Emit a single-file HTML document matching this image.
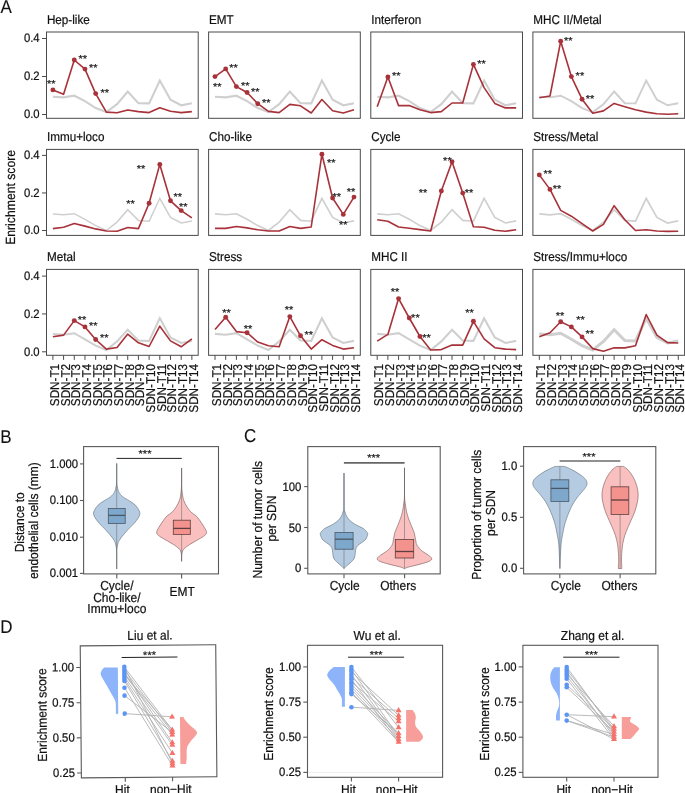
<!DOCTYPE html>
<html><head><meta charset="utf-8"><title>Figure</title>
<style>
html,body{margin:0;padding:0;background:#fff;}
svg{display:block;font-family:"Liberation Sans", sans-serif;text-rendering:geometricPrecision;will-change:transform;}
</style></head>
<body>
<svg width="685" height="793" viewBox="0 0 685 793">
<rect x="0" y="0" width="685" height="793" fill="#fff"/>
<text transform="translate(0.5,13.4) scale(0.9174,1)" font-size="18.53" text-anchor="start" fill="#111111" stroke="#111111" stroke-width="0.1" >A</text>
<text transform="translate(15.3,197.4) rotate(-90) scale(0.9174,1)" font-size="13.30" text-anchor="middle" fill="#111111" stroke="#111111" stroke-width="0.22">Enrichment score</text>
<text transform="translate(46.9,23.7) scale(0.9174,1)" font-size="12.75" text-anchor="start" fill="#111111" stroke="#111111" stroke-width="0.22" >Hep-like</text>
<polyline points="52.9,96.7 63.59,97.4 74.28,95.7 84.97,101.1 95.66,108.1 106.35,112.1 117.04,104.2 127.73,91.5 138.42,103.2 149.11,103.4 159.8,80.6 170.49,99.7 181.18,105.3 191.87,103.2" fill="none" stroke="#cfcfcf" stroke-width="2.1" stroke-linejoin="miter" stroke-miterlimit="4" stroke-linecap="butt" />
<polyline points="52.9,89.9 63.59,94.3 74.28,60 84.97,69.1 95.66,93.6 106.35,112.1 117.04,112.8 127.73,110 138.42,111.6 149.11,112.6 159.8,107.7 170.49,111.2 181.18,112.6 191.87,111.6" fill="none" stroke="#a8323a" stroke-width="1.6" stroke-linejoin="round" stroke-miterlimit="4" stroke-linecap="butt" />
<circle cx="52.9" cy="89.9" r="2.45" fill="#a8323a"/>
<circle cx="74.28" cy="60" r="2.45" fill="#a8323a"/>
<circle cx="84.97" cy="69.1" r="2.45" fill="#a8323a"/>
<circle cx="95.66" cy="93.6" r="2.45" fill="#a8323a"/>
<text transform="translate(51.2,87.39) scale(1.0870,1)" font-size="10.12" text-anchor="middle" fill="#1a1a1a" stroke="#1a1a1a" stroke-width="0.25" >**</text>
<text transform="translate(82.7,62.39) scale(1.0870,1)" font-size="10.12" text-anchor="middle" fill="#1a1a1a" stroke="#1a1a1a" stroke-width="0.25" >**</text>
<text transform="translate(93.3,71.29) scale(1.0870,1)" font-size="10.12" text-anchor="middle" fill="#1a1a1a" stroke="#1a1a1a" stroke-width="0.25" >**</text>
<text transform="translate(104.7,95.79) scale(1.0870,1)" font-size="10.12" text-anchor="middle" fill="#1a1a1a" stroke="#1a1a1a" stroke-width="0.25" >**</text>
<rect x="46.5" y="32" width="151.7" height="86.3" fill="none" stroke="#4a4a4a" stroke-width="1.0"/>
<line x1="42" y1="114.5" x2="46.5" y2="114.5" stroke="#4a4a4a" stroke-width="1.0" />
<text transform="translate(39.6,118.24) scale(0.9174,1)" font-size="12.32" text-anchor="end" fill="#111111" stroke="#111111" stroke-width="0.22" >0.0</text>
<line x1="42" y1="76.5" x2="46.5" y2="76.5" stroke="#4a4a4a" stroke-width="1.0" />
<text transform="translate(39.6,80.24) scale(0.9174,1)" font-size="12.32" text-anchor="end" fill="#111111" stroke="#111111" stroke-width="0.22" >0.2</text>
<line x1="42" y1="38.5" x2="46.5" y2="38.5" stroke="#4a4a4a" stroke-width="1.0" />
<text transform="translate(39.6,42.24) scale(0.9174,1)" font-size="12.32" text-anchor="end" fill="#111111" stroke="#111111" stroke-width="0.22" >0.4</text>
<text transform="translate(209,23.7) scale(0.9174,1)" font-size="12.75" text-anchor="start" fill="#111111" stroke="#111111" stroke-width="0.22" >EMT</text>
<polyline points="215,96.7 225.69,97.4 236.38,95.7 247.07,101.1 257.76,108.1 268.45,112.1 279.14,104.2 289.83,91.5 300.52,103.2 311.21,103.4 321.9,80.6 332.59,99.7 343.28,105.3 353.97,103.2" fill="none" stroke="#cfcfcf" stroke-width="2.1" stroke-linejoin="miter" stroke-miterlimit="4" stroke-linecap="butt" />
<polyline points="215,76.6 225.69,68.9 236.38,86.6 247.07,92.5 257.76,103.7 268.45,111.4 279.14,112.6 289.83,104.4 300.52,105.8 311.21,113 321.9,99.5 332.59,110.7 343.28,113 353.97,109.8" fill="none" stroke="#a8323a" stroke-width="1.6" stroke-linejoin="round" stroke-miterlimit="4" stroke-linecap="butt" />
<circle cx="215" cy="76.6" r="2.45" fill="#a8323a"/>
<circle cx="225.69" cy="68.9" r="2.45" fill="#a8323a"/>
<circle cx="236.38" cy="86.6" r="2.45" fill="#a8323a"/>
<circle cx="247.07" cy="92.5" r="2.45" fill="#a8323a"/>
<circle cx="257.76" cy="103.7" r="2.45" fill="#a8323a"/>
<text transform="translate(217.2,89.99) scale(1.0870,1)" font-size="10.12" text-anchor="middle" fill="#1a1a1a" stroke="#1a1a1a" stroke-width="0.25" >**</text>
<text transform="translate(233.5,70.59) scale(1.0870,1)" font-size="10.12" text-anchor="middle" fill="#1a1a1a" stroke="#1a1a1a" stroke-width="0.25" >**</text>
<text transform="translate(245.2,88.59) scale(1.0870,1)" font-size="10.12" text-anchor="middle" fill="#1a1a1a" stroke="#1a1a1a" stroke-width="0.25" >**</text>
<text transform="translate(255.3,94.59) scale(1.0870,1)" font-size="10.12" text-anchor="middle" fill="#1a1a1a" stroke="#1a1a1a" stroke-width="0.25" >**</text>
<text transform="translate(266.2,105.59) scale(1.0870,1)" font-size="10.12" text-anchor="middle" fill="#1a1a1a" stroke="#1a1a1a" stroke-width="0.25" >**</text>
<rect x="208.6" y="32" width="151.7" height="86.3" fill="none" stroke="#4a4a4a" stroke-width="1.0"/>
<text transform="translate(371.2,23.7) scale(0.9174,1)" font-size="12.75" text-anchor="start" fill="#111111" stroke="#111111" stroke-width="0.22" >Interferon</text>
<polyline points="377.2,96.7 387.89,97.4 398.58,95.7 409.27,101.1 419.96,108.1 430.65,112.1 441.34,104.2 452.03,91.5 462.72,103.2 473.41,103.4 484.1,80.6 494.79,99.7 505.48,105.3 516.17,103.2" fill="none" stroke="#cfcfcf" stroke-width="2.1" stroke-linejoin="miter" stroke-miterlimit="4" stroke-linecap="butt" />
<polyline points="377.2,106.7 387.89,77.05 398.58,105.6 409.27,105.6 419.96,109.8 430.65,112.6 441.34,111.6 452.03,103 462.72,103 473.41,64.4 484.1,87.6 494.79,103.4 505.48,107.9 516.17,107.9" fill="none" stroke="#a8323a" stroke-width="1.6" stroke-linejoin="round" stroke-miterlimit="4" stroke-linecap="butt" />
<circle cx="387.89" cy="77.05" r="2.45" fill="#a8323a"/>
<circle cx="473.41" cy="64.4" r="2.45" fill="#a8323a"/>
<text transform="translate(396.2,79.19) scale(1.0870,1)" font-size="10.12" text-anchor="middle" fill="#1a1a1a" stroke="#1a1a1a" stroke-width="0.25" >**</text>
<text transform="translate(481.5,66.59) scale(1.0870,1)" font-size="10.12" text-anchor="middle" fill="#1a1a1a" stroke="#1a1a1a" stroke-width="0.25" >**</text>
<rect x="370.8" y="32" width="151.7" height="86.3" fill="none" stroke="#4a4a4a" stroke-width="1.0"/>
<text transform="translate(533.3,23.7) scale(0.9174,1)" font-size="12.75" text-anchor="start" fill="#111111" stroke="#111111" stroke-width="0.22" >MHC II/Metal</text>
<polyline points="539.3,96.7 549.99,97.4 560.68,95.7 571.37,101.1 582.06,108.1 592.75,112.1 603.44,104.2 614.13,91.5 624.82,103.2 635.51,103.4 646.2,80.6 656.89,99.7 667.58,105.3 678.27,103.2" fill="none" stroke="#cfcfcf" stroke-width="1.9" stroke-linejoin="miter" stroke-miterlimit="4" stroke-linecap="butt" />
<polyline points="539.3,97.8 549.99,96 560.68,41.3 571.37,76.6 582.06,99.2 592.75,113.3 603.44,110.9 614.13,103.4 624.82,106.7 635.51,109.8 646.2,112.1 656.89,113.7 667.58,114.2 678.27,113.7" fill="none" stroke="#a8323a" stroke-width="1.6" stroke-linejoin="round" stroke-miterlimit="4" stroke-linecap="butt" />
<circle cx="560.68" cy="41.3" r="2.45" fill="#a8323a"/>
<circle cx="571.37" cy="76.6" r="2.45" fill="#a8323a"/>
<circle cx="582.06" cy="99.2" r="2.45" fill="#a8323a"/>
<text transform="translate(568.2,43.69) scale(1.0870,1)" font-size="10.12" text-anchor="middle" fill="#1a1a1a" stroke="#1a1a1a" stroke-width="0.25" >**</text>
<text transform="translate(579.9,78.69) scale(1.0870,1)" font-size="10.12" text-anchor="middle" fill="#1a1a1a" stroke="#1a1a1a" stroke-width="0.25" >**</text>
<text transform="translate(590,101.59) scale(1.0870,1)" font-size="10.12" text-anchor="middle" fill="#1a1a1a" stroke="#1a1a1a" stroke-width="0.25" >**</text>
<rect x="532.9" y="32" width="151.7" height="86.3" fill="none" stroke="#4a4a4a" stroke-width="1.0"/>
<text transform="translate(46.9,141.1) scale(0.9174,1)" font-size="12.75" text-anchor="start" fill="#111111" stroke="#111111" stroke-width="0.22" >Immu+loco</text>
<polyline points="52.9,213.9 63.59,214.8 74.28,213.7 84.97,219.3 95.66,225.6 106.35,230.5 117.04,222.1 127.73,209.7 138.42,220.4 149.11,221.2 159.8,198.3 170.49,217.4 181.18,223 191.87,220.9" fill="none" stroke="#cfcfcf" stroke-width="1.5" stroke-linejoin="miter" stroke-miterlimit="4" stroke-linecap="butt" />
<polyline points="52.9,228.6 63.59,227.2 74.28,223.5 84.97,226.1 95.66,228.9 106.35,231 117.04,231.2 127.73,227.5 138.42,228.6 149.11,203.2 159.8,164.4 170.49,200.8 181.18,210.6 191.87,217.9" fill="none" stroke="#a8323a" stroke-width="1.6" stroke-linejoin="round" stroke-miterlimit="4" stroke-linecap="butt" />
<circle cx="149.11" cy="203.2" r="2.45" fill="#a8323a"/>
<circle cx="159.8" cy="164.4" r="2.45" fill="#a8323a"/>
<circle cx="170.49" cy="200.8" r="2.45" fill="#a8323a"/>
<circle cx="181.18" cy="210.6" r="2.45" fill="#a8323a"/>
<text transform="translate(141.1,172.39) scale(1.0870,1)" font-size="10.12" text-anchor="middle" fill="#1a1a1a" stroke="#1a1a1a" stroke-width="0.25" >**</text>
<text transform="translate(130.6,207.39) scale(1.0870,1)" font-size="10.12" text-anchor="middle" fill="#1a1a1a" stroke="#1a1a1a" stroke-width="0.25" >**</text>
<text transform="translate(177.8,200.39) scale(1.0870,1)" font-size="10.12" text-anchor="middle" fill="#1a1a1a" stroke="#1a1a1a" stroke-width="0.25" >**</text>
<text transform="translate(183.2,210.49) scale(1.0870,1)" font-size="10.12" text-anchor="middle" fill="#1a1a1a" stroke="#1a1a1a" stroke-width="0.25" >**</text>
<rect x="46.5" y="149.4" width="151.7" height="86" fill="none" stroke="#4a4a4a" stroke-width="1.0"/>
<line x1="42" y1="230.5" x2="46.5" y2="230.5" stroke="#4a4a4a" stroke-width="1.0" />
<text transform="translate(39.6,234.24) scale(0.9174,1)" font-size="12.32" text-anchor="end" fill="#111111" stroke="#111111" stroke-width="0.22" >0.0</text>
<line x1="42" y1="192.95" x2="46.5" y2="192.95" stroke="#4a4a4a" stroke-width="1.0" />
<text transform="translate(39.6,196.69) scale(0.9174,1)" font-size="12.32" text-anchor="end" fill="#111111" stroke="#111111" stroke-width="0.22" >0.2</text>
<line x1="42" y1="155.4" x2="46.5" y2="155.4" stroke="#4a4a4a" stroke-width="1.0" />
<text transform="translate(39.6,159.14) scale(0.9174,1)" font-size="12.32" text-anchor="end" fill="#111111" stroke="#111111" stroke-width="0.22" >0.4</text>
<text transform="translate(209,141.1) scale(0.9174,1)" font-size="12.75" text-anchor="start" fill="#111111" stroke="#111111" stroke-width="0.22" >Cho-like</text>
<polyline points="215,213.9 225.69,214.8 236.38,213.7 247.07,219.3 257.76,225.6 268.45,230.5 279.14,222.1 289.83,209.7 300.52,220.4 311.21,221.2 321.9,198.3 332.59,217.4 343.28,223 353.97,220.9" fill="none" stroke="#cfcfcf" stroke-width="1.6" stroke-linejoin="miter" stroke-miterlimit="4" stroke-linecap="butt" />
<polyline points="215,228.4 225.69,228.4 236.38,226.5 247.07,227.9 257.76,229.8 268.45,231 279.14,231 289.83,226.5 300.52,228.4 311.21,227 321.9,154.3 332.59,198 343.28,214.4 353.97,197.1" fill="none" stroke="#a8323a" stroke-width="1.6" stroke-linejoin="round" stroke-miterlimit="4" stroke-linecap="butt" />
<circle cx="321.9" cy="154.3" r="2.45" fill="#a8323a"/>
<circle cx="332.59" cy="198" r="2.45" fill="#a8323a"/>
<circle cx="343.28" cy="214.4" r="2.45" fill="#a8323a"/>
<circle cx="353.97" cy="197.1" r="2.45" fill="#a8323a"/>
<text transform="translate(331.2,165.89) scale(1.0870,1)" font-size="10.12" text-anchor="middle" fill="#1a1a1a" stroke="#1a1a1a" stroke-width="0.25" >**</text>
<text transform="translate(336.8,200.39) scale(1.0870,1)" font-size="10.12" text-anchor="middle" fill="#1a1a1a" stroke="#1a1a1a" stroke-width="0.25" >**</text>
<text transform="translate(343.3,228.19) scale(1.0870,1)" font-size="10.12" text-anchor="middle" fill="#1a1a1a" stroke="#1a1a1a" stroke-width="0.25" >**</text>
<text transform="translate(351,195.29) scale(1.0870,1)" font-size="10.12" text-anchor="middle" fill="#1a1a1a" stroke="#1a1a1a" stroke-width="0.25" >**</text>
<rect x="208.6" y="149.4" width="151.7" height="86" fill="none" stroke="#4a4a4a" stroke-width="1.0"/>
<text transform="translate(371.2,141.1) scale(0.9174,1)" font-size="12.75" text-anchor="start" fill="#111111" stroke="#111111" stroke-width="0.22" >Cycle</text>
<polyline points="377.2,213.9 387.89,214.8 398.58,213.7 409.27,219.3 419.96,225.6 430.65,230.5 441.34,222.1 452.03,209.7 462.72,220.4 473.41,221.2 484.1,198.3 494.79,217.4 505.48,223 516.17,220.9" fill="none" stroke="#cfcfcf" stroke-width="1.6" stroke-linejoin="miter" stroke-miterlimit="4" stroke-linecap="butt" />
<polyline points="377.2,219.7 387.89,221.2 398.58,227 409.27,228.2 419.96,229.6 430.65,231 441.34,191 452.03,161.8 462.72,193.1 473.41,226.8 484.1,227.2 494.79,230.3 505.48,231.2 516.17,229.8" fill="none" stroke="#a8323a" stroke-width="1.6" stroke-linejoin="round" stroke-miterlimit="4" stroke-linecap="butt" />
<circle cx="441.34" cy="191" r="2.45" fill="#a8323a"/>
<circle cx="452.03" cy="161.8" r="2.45" fill="#a8323a"/>
<circle cx="462.72" cy="193.1" r="2.45" fill="#a8323a"/>
<text transform="translate(423.1,196.19) scale(1.0870,1)" font-size="10.12" text-anchor="middle" fill="#1a1a1a" stroke="#1a1a1a" stroke-width="0.25" >**</text>
<text transform="translate(447.4,163.69) scale(1.0870,1)" font-size="10.12" text-anchor="middle" fill="#1a1a1a" stroke="#1a1a1a" stroke-width="0.25" >**</text>
<text transform="translate(469.1,196.19) scale(1.0870,1)" font-size="10.12" text-anchor="middle" fill="#1a1a1a" stroke="#1a1a1a" stroke-width="0.25" >**</text>
<rect x="370.8" y="149.4" width="151.7" height="86" fill="none" stroke="#4a4a4a" stroke-width="1.0"/>
<text transform="translate(533.3,141.1) scale(0.9174,1)" font-size="12.75" text-anchor="start" fill="#111111" stroke="#111111" stroke-width="0.22" >Stress/Metal</text>
<polyline points="539.3,213.9 549.99,214.8 560.68,213.7 571.37,219.3 582.06,225.6 592.75,230.5 603.44,222.1 614.13,209.7 624.82,220.4 635.51,221.2 646.2,198.3 656.89,217.4 667.58,223 678.27,220.9" fill="none" stroke="#cfcfcf" stroke-width="1.7" stroke-linejoin="miter" stroke-miterlimit="4" stroke-linecap="butt" />
<polyline points="539.3,174.9 549.99,189.4 560.68,210.4 571.37,216.2 582.06,223.7 592.75,231 603.44,224.4 614.13,205.7 624.82,219.7 635.51,230.5 646.2,229.8 656.89,231 667.58,231.4 678.27,231.2" fill="none" stroke="#a8323a" stroke-width="1.6" stroke-linejoin="round" stroke-miterlimit="4" stroke-linecap="butt" />
<circle cx="539.3" cy="174.9" r="2.45" fill="#a8323a"/>
<circle cx="549.99" cy="189.4" r="2.45" fill="#a8323a"/>
<text transform="translate(547.7,177.09) scale(1.0870,1)" font-size="10.12" text-anchor="middle" fill="#1a1a1a" stroke="#1a1a1a" stroke-width="0.25" >**</text>
<text transform="translate(557,191.79) scale(1.0870,1)" font-size="10.12" text-anchor="middle" fill="#1a1a1a" stroke="#1a1a1a" stroke-width="0.25" >**</text>
<rect x="532.9" y="149.4" width="151.7" height="86" fill="none" stroke="#4a4a4a" stroke-width="1.0"/>
<text transform="translate(46.9,261.1) scale(0.9174,1)" font-size="12.75" text-anchor="start" fill="#111111" stroke="#111111" stroke-width="0.22" >Metal</text>
<polyline points="52.9,333.9 63.59,334.8 74.28,333.2 84.97,339.3 95.66,345.6 106.35,350 117.04,341.4 127.73,329.7 138.42,340.5 149.11,340.9 159.8,318.3 170.49,337.4 181.18,343 191.87,340.9" fill="none" stroke="#cfcfcf" stroke-width="2.0" stroke-linejoin="miter" stroke-miterlimit="4" stroke-linecap="butt" />
<polyline points="52.9,336.7 63.59,335.1 74.28,320.6 84.97,326.9 95.66,339.5 106.35,349.1 117.04,347.5 127.73,334.1 138.42,342.8 149.11,346.5 159.8,326.2 170.49,340.9 181.18,346.8 191.87,338.8" fill="none" stroke="#a8323a" stroke-width="1.6" stroke-linejoin="round" stroke-miterlimit="4" stroke-linecap="butt" />
<circle cx="74.28" cy="320.6" r="2.45" fill="#a8323a"/>
<circle cx="84.97" cy="326.9" r="2.45" fill="#a8323a"/>
<circle cx="95.66" cy="339.5" r="2.45" fill="#a8323a"/>
<text transform="translate(82,323.19) scale(1.0870,1)" font-size="10.12" text-anchor="middle" fill="#1a1a1a" stroke="#1a1a1a" stroke-width="0.25" >**</text>
<text transform="translate(93.3,329.29) scale(1.0870,1)" font-size="10.12" text-anchor="middle" fill="#1a1a1a" stroke="#1a1a1a" stroke-width="0.25" >**</text>
<text transform="translate(104.2,341.39) scale(1.0870,1)" font-size="10.12" text-anchor="middle" fill="#1a1a1a" stroke="#1a1a1a" stroke-width="0.25" >**</text>
<rect x="46.5" y="269.4" width="151.7" height="85.9" fill="none" stroke="#4a4a4a" stroke-width="1.0"/>
<line x1="42" y1="351.8" x2="46.5" y2="351.8" stroke="#4a4a4a" stroke-width="1.0" />
<text transform="translate(39.6,355.54) scale(0.9174,1)" font-size="12.32" text-anchor="end" fill="#111111" stroke="#111111" stroke-width="0.22" >0.0</text>
<line x1="42" y1="313.95" x2="46.5" y2="313.95" stroke="#4a4a4a" stroke-width="1.0" />
<text transform="translate(39.6,317.69) scale(0.9174,1)" font-size="12.32" text-anchor="end" fill="#111111" stroke="#111111" stroke-width="0.22" >0.2</text>
<line x1="42" y1="276.1" x2="46.5" y2="276.1" stroke="#4a4a4a" stroke-width="1.0" />
<text transform="translate(39.6,279.84) scale(0.9174,1)" font-size="12.32" text-anchor="end" fill="#111111" stroke="#111111" stroke-width="0.22" >0.4</text>
<line x1="52.9" y1="355.3" x2="52.9" y2="359.9" stroke="#4a4a4a" stroke-width="1.0" />
<text transform="translate(58.9,363.9) rotate(-90) scale(0.9174,1)" font-size="12.75" text-anchor="end" fill="#111111" stroke="#111111" stroke-width="0.22">SDN-T1</text>
<line x1="63.59" y1="355.3" x2="63.59" y2="359.9" stroke="#4a4a4a" stroke-width="1.0" />
<text transform="translate(69.59,363.9) rotate(-90) scale(0.9174,1)" font-size="12.75" text-anchor="end" fill="#111111" stroke="#111111" stroke-width="0.22">SDN-T2</text>
<line x1="74.28" y1="355.3" x2="74.28" y2="359.9" stroke="#4a4a4a" stroke-width="1.0" />
<text transform="translate(80.28,363.9) rotate(-90) scale(0.9174,1)" font-size="12.75" text-anchor="end" fill="#111111" stroke="#111111" stroke-width="0.22">SDN-T3</text>
<line x1="84.97" y1="355.3" x2="84.97" y2="359.9" stroke="#4a4a4a" stroke-width="1.0" />
<text transform="translate(90.97,363.9) rotate(-90) scale(0.9174,1)" font-size="12.75" text-anchor="end" fill="#111111" stroke="#111111" stroke-width="0.22">SDN-T4</text>
<line x1="95.66" y1="355.3" x2="95.66" y2="359.9" stroke="#4a4a4a" stroke-width="1.0" />
<text transform="translate(101.66,363.9) rotate(-90) scale(0.9174,1)" font-size="12.75" text-anchor="end" fill="#111111" stroke="#111111" stroke-width="0.22">SDN-T5</text>
<line x1="106.35" y1="355.3" x2="106.35" y2="359.9" stroke="#4a4a4a" stroke-width="1.0" />
<text transform="translate(112.35,363.9) rotate(-90) scale(0.9174,1)" font-size="12.75" text-anchor="end" fill="#111111" stroke="#111111" stroke-width="0.22">SDN-T6</text>
<line x1="117.04" y1="355.3" x2="117.04" y2="359.9" stroke="#4a4a4a" stroke-width="1.0" />
<text transform="translate(123.04,363.9) rotate(-90) scale(0.9174,1)" font-size="12.75" text-anchor="end" fill="#111111" stroke="#111111" stroke-width="0.22">SDN-T7</text>
<line x1="127.73" y1="355.3" x2="127.73" y2="359.9" stroke="#4a4a4a" stroke-width="1.0" />
<text transform="translate(133.73,363.9) rotate(-90) scale(0.9174,1)" font-size="12.75" text-anchor="end" fill="#111111" stroke="#111111" stroke-width="0.22">SDN-T8</text>
<line x1="138.42" y1="355.3" x2="138.42" y2="359.9" stroke="#4a4a4a" stroke-width="1.0" />
<text transform="translate(144.42,363.9) rotate(-90) scale(0.9174,1)" font-size="12.75" text-anchor="end" fill="#111111" stroke="#111111" stroke-width="0.22">SDN-T9</text>
<line x1="149.11" y1="355.3" x2="149.11" y2="359.9" stroke="#4a4a4a" stroke-width="1.0" />
<text transform="translate(155.11,363.9) rotate(-90) scale(0.9174,1)" font-size="12.75" text-anchor="end" fill="#111111" stroke="#111111" stroke-width="0.22">SDN-T10</text>
<line x1="159.8" y1="355.3" x2="159.8" y2="359.9" stroke="#4a4a4a" stroke-width="1.0" />
<text transform="translate(165.8,363.9) rotate(-90) scale(0.9174,1)" font-size="12.75" text-anchor="end" fill="#111111" stroke="#111111" stroke-width="0.22">SDN-T11</text>
<line x1="170.49" y1="355.3" x2="170.49" y2="359.9" stroke="#4a4a4a" stroke-width="1.0" />
<text transform="translate(176.49,363.9) rotate(-90) scale(0.9174,1)" font-size="12.75" text-anchor="end" fill="#111111" stroke="#111111" stroke-width="0.22">SDN-T12</text>
<line x1="181.18" y1="355.3" x2="181.18" y2="359.9" stroke="#4a4a4a" stroke-width="1.0" />
<text transform="translate(187.18,363.9) rotate(-90) scale(0.9174,1)" font-size="12.75" text-anchor="end" fill="#111111" stroke="#111111" stroke-width="0.22">SDN-T13</text>
<line x1="191.87" y1="355.3" x2="191.87" y2="359.9" stroke="#4a4a4a" stroke-width="1.0" />
<text transform="translate(197.87,363.9) rotate(-90) scale(0.9174,1)" font-size="12.75" text-anchor="end" fill="#111111" stroke="#111111" stroke-width="0.22">SDN-T14</text>
<text transform="translate(209,261.1) scale(0.9174,1)" font-size="12.75" text-anchor="start" fill="#111111" stroke="#111111" stroke-width="0.22" >Stress</text>
<polyline points="215,333.9 225.69,334.8 236.38,333.2 247.07,339.3 257.76,345.6 268.45,350 279.14,341.4 289.83,329.7 300.52,340.5 311.21,340.9 321.9,318.3 332.59,337.4 343.28,343 353.97,340.9" fill="none" stroke="#cfcfcf" stroke-width="2.1" stroke-linejoin="miter" stroke-miterlimit="4" stroke-linecap="butt" />
<polyline points="215,329.5 225.69,317.3 236.38,331.6 247.07,332.7 257.76,342.1 268.45,345.8 279.14,346.8 289.83,316.6 300.52,335.8 311.21,349.1 321.9,339.7 332.59,345.4 343.28,349.1 353.97,347.7" fill="none" stroke="#a8323a" stroke-width="1.6" stroke-linejoin="round" stroke-miterlimit="4" stroke-linecap="butt" />
<circle cx="225.69" cy="317.3" r="2.45" fill="#a8323a"/>
<circle cx="247.07" cy="332.7" r="2.45" fill="#a8323a"/>
<circle cx="289.83" cy="316.6" r="2.45" fill="#a8323a"/>
<circle cx="300.52" cy="335.8" r="2.45" fill="#a8323a"/>
<text transform="translate(226.5,316.19) scale(1.0870,1)" font-size="10.12" text-anchor="middle" fill="#1a1a1a" stroke="#1a1a1a" stroke-width="0.25" >**</text>
<text transform="translate(248,331.59) scale(1.0870,1)" font-size="10.12" text-anchor="middle" fill="#1a1a1a" stroke="#1a1a1a" stroke-width="0.25" >**</text>
<text transform="translate(289.1,313.39) scale(1.0870,1)" font-size="10.12" text-anchor="middle" fill="#1a1a1a" stroke="#1a1a1a" stroke-width="0.25" >**</text>
<text transform="translate(308.8,338.19) scale(1.0870,1)" font-size="10.12" text-anchor="middle" fill="#1a1a1a" stroke="#1a1a1a" stroke-width="0.25" >**</text>
<rect x="208.6" y="269.4" width="151.7" height="85.9" fill="none" stroke="#4a4a4a" stroke-width="1.0"/>
<line x1="215" y1="355.3" x2="215" y2="359.9" stroke="#4a4a4a" stroke-width="1.0" />
<text transform="translate(221,363.9) rotate(-90) scale(0.9174,1)" font-size="12.75" text-anchor="end" fill="#111111" stroke="#111111" stroke-width="0.22">SDN-T1</text>
<line x1="225.69" y1="355.3" x2="225.69" y2="359.9" stroke="#4a4a4a" stroke-width="1.0" />
<text transform="translate(231.69,363.9) rotate(-90) scale(0.9174,1)" font-size="12.75" text-anchor="end" fill="#111111" stroke="#111111" stroke-width="0.22">SDN-T2</text>
<line x1="236.38" y1="355.3" x2="236.38" y2="359.9" stroke="#4a4a4a" stroke-width="1.0" />
<text transform="translate(242.38,363.9) rotate(-90) scale(0.9174,1)" font-size="12.75" text-anchor="end" fill="#111111" stroke="#111111" stroke-width="0.22">SDN-T3</text>
<line x1="247.07" y1="355.3" x2="247.07" y2="359.9" stroke="#4a4a4a" stroke-width="1.0" />
<text transform="translate(253.07,363.9) rotate(-90) scale(0.9174,1)" font-size="12.75" text-anchor="end" fill="#111111" stroke="#111111" stroke-width="0.22">SDN-T4</text>
<line x1="257.76" y1="355.3" x2="257.76" y2="359.9" stroke="#4a4a4a" stroke-width="1.0" />
<text transform="translate(263.76,363.9) rotate(-90) scale(0.9174,1)" font-size="12.75" text-anchor="end" fill="#111111" stroke="#111111" stroke-width="0.22">SDN-T5</text>
<line x1="268.45" y1="355.3" x2="268.45" y2="359.9" stroke="#4a4a4a" stroke-width="1.0" />
<text transform="translate(274.45,363.9) rotate(-90) scale(0.9174,1)" font-size="12.75" text-anchor="end" fill="#111111" stroke="#111111" stroke-width="0.22">SDN-T6</text>
<line x1="279.14" y1="355.3" x2="279.14" y2="359.9" stroke="#4a4a4a" stroke-width="1.0" />
<text transform="translate(285.14,363.9) rotate(-90) scale(0.9174,1)" font-size="12.75" text-anchor="end" fill="#111111" stroke="#111111" stroke-width="0.22">SDN-T7</text>
<line x1="289.83" y1="355.3" x2="289.83" y2="359.9" stroke="#4a4a4a" stroke-width="1.0" />
<text transform="translate(295.83,363.9) rotate(-90) scale(0.9174,1)" font-size="12.75" text-anchor="end" fill="#111111" stroke="#111111" stroke-width="0.22">SDN-T8</text>
<line x1="300.52" y1="355.3" x2="300.52" y2="359.9" stroke="#4a4a4a" stroke-width="1.0" />
<text transform="translate(306.52,363.9) rotate(-90) scale(0.9174,1)" font-size="12.75" text-anchor="end" fill="#111111" stroke="#111111" stroke-width="0.22">SDN-T9</text>
<line x1="311.21" y1="355.3" x2="311.21" y2="359.9" stroke="#4a4a4a" stroke-width="1.0" />
<text transform="translate(317.21,363.9) rotate(-90) scale(0.9174,1)" font-size="12.75" text-anchor="end" fill="#111111" stroke="#111111" stroke-width="0.22">SDN-T10</text>
<line x1="321.9" y1="355.3" x2="321.9" y2="359.9" stroke="#4a4a4a" stroke-width="1.0" />
<text transform="translate(327.9,363.9) rotate(-90) scale(0.9174,1)" font-size="12.75" text-anchor="end" fill="#111111" stroke="#111111" stroke-width="0.22">SDN-T11</text>
<line x1="332.59" y1="355.3" x2="332.59" y2="359.9" stroke="#4a4a4a" stroke-width="1.0" />
<text transform="translate(338.59,363.9) rotate(-90) scale(0.9174,1)" font-size="12.75" text-anchor="end" fill="#111111" stroke="#111111" stroke-width="0.22">SDN-T12</text>
<line x1="343.28" y1="355.3" x2="343.28" y2="359.9" stroke="#4a4a4a" stroke-width="1.0" />
<text transform="translate(349.28,363.9) rotate(-90) scale(0.9174,1)" font-size="12.75" text-anchor="end" fill="#111111" stroke="#111111" stroke-width="0.22">SDN-T13</text>
<line x1="353.97" y1="355.3" x2="353.97" y2="359.9" stroke="#4a4a4a" stroke-width="1.0" />
<text transform="translate(359.97,363.9) rotate(-90) scale(0.9174,1)" font-size="12.75" text-anchor="end" fill="#111111" stroke="#111111" stroke-width="0.22">SDN-T14</text>
<text transform="translate(371.2,261.1) scale(0.9174,1)" font-size="12.75" text-anchor="start" fill="#111111" stroke="#111111" stroke-width="0.22" >MHC II</text>
<polyline points="377.2,333.9 387.89,334.8 398.58,333.2 409.27,339.3 419.96,345.6 430.65,350 441.34,341.4 452.03,329.7 462.72,340.5 473.41,340.9 484.1,318.3 494.79,337.4 505.48,343 516.17,340.9" fill="none" stroke="#cfcfcf" stroke-width="2.1" stroke-linejoin="miter" stroke-miterlimit="4" stroke-linecap="butt" />
<polyline points="377.2,341.1 387.89,334.4 398.58,298.6 409.27,318 419.96,336.5 430.65,350 441.34,349.6 452.03,345.1 462.72,345.1 473.41,321.3 484.1,338.8 494.79,347.7 505.48,349.1 516.17,349.6" fill="none" stroke="#a8323a" stroke-width="1.6" stroke-linejoin="round" stroke-miterlimit="4" stroke-linecap="butt" />
<circle cx="398.58" cy="298.6" r="2.45" fill="#a8323a"/>
<circle cx="409.27" cy="318" r="2.45" fill="#a8323a"/>
<circle cx="419.96" cy="336.5" r="2.45" fill="#a8323a"/>
<circle cx="473.41" cy="321.3" r="2.45" fill="#a8323a"/>
<text transform="translate(395.1,295.19) scale(1.0870,1)" font-size="10.12" text-anchor="middle" fill="#1a1a1a" stroke="#1a1a1a" stroke-width="0.25" >**</text>
<text transform="translate(415.4,320.89) scale(1.0870,1)" font-size="10.12" text-anchor="middle" fill="#1a1a1a" stroke="#1a1a1a" stroke-width="0.25" >**</text>
<text transform="translate(426.6,340.69) scale(1.0870,1)" font-size="10.12" text-anchor="middle" fill="#1a1a1a" stroke="#1a1a1a" stroke-width="0.25" >**</text>
<text transform="translate(469.6,316.19) scale(1.0870,1)" font-size="10.12" text-anchor="middle" fill="#1a1a1a" stroke="#1a1a1a" stroke-width="0.25" >**</text>
<rect x="370.8" y="269.4" width="151.7" height="85.9" fill="none" stroke="#4a4a4a" stroke-width="1.0"/>
<line x1="377.2" y1="355.3" x2="377.2" y2="359.9" stroke="#4a4a4a" stroke-width="1.0" />
<text transform="translate(383.2,363.9) rotate(-90) scale(0.9174,1)" font-size="12.75" text-anchor="end" fill="#111111" stroke="#111111" stroke-width="0.22">SDN-T1</text>
<line x1="387.89" y1="355.3" x2="387.89" y2="359.9" stroke="#4a4a4a" stroke-width="1.0" />
<text transform="translate(393.89,363.9) rotate(-90) scale(0.9174,1)" font-size="12.75" text-anchor="end" fill="#111111" stroke="#111111" stroke-width="0.22">SDN-T2</text>
<line x1="398.58" y1="355.3" x2="398.58" y2="359.9" stroke="#4a4a4a" stroke-width="1.0" />
<text transform="translate(404.58,363.9) rotate(-90) scale(0.9174,1)" font-size="12.75" text-anchor="end" fill="#111111" stroke="#111111" stroke-width="0.22">SDN-T3</text>
<line x1="409.27" y1="355.3" x2="409.27" y2="359.9" stroke="#4a4a4a" stroke-width="1.0" />
<text transform="translate(415.27,363.9) rotate(-90) scale(0.9174,1)" font-size="12.75" text-anchor="end" fill="#111111" stroke="#111111" stroke-width="0.22">SDN-T4</text>
<line x1="419.96" y1="355.3" x2="419.96" y2="359.9" stroke="#4a4a4a" stroke-width="1.0" />
<text transform="translate(425.96,363.9) rotate(-90) scale(0.9174,1)" font-size="12.75" text-anchor="end" fill="#111111" stroke="#111111" stroke-width="0.22">SDN-T5</text>
<line x1="430.65" y1="355.3" x2="430.65" y2="359.9" stroke="#4a4a4a" stroke-width="1.0" />
<text transform="translate(436.65,363.9) rotate(-90) scale(0.9174,1)" font-size="12.75" text-anchor="end" fill="#111111" stroke="#111111" stroke-width="0.22">SDN-T6</text>
<line x1="441.34" y1="355.3" x2="441.34" y2="359.9" stroke="#4a4a4a" stroke-width="1.0" />
<text transform="translate(447.34,363.9) rotate(-90) scale(0.9174,1)" font-size="12.75" text-anchor="end" fill="#111111" stroke="#111111" stroke-width="0.22">SDN-T7</text>
<line x1="452.03" y1="355.3" x2="452.03" y2="359.9" stroke="#4a4a4a" stroke-width="1.0" />
<text transform="translate(458.03,363.9) rotate(-90) scale(0.9174,1)" font-size="12.75" text-anchor="end" fill="#111111" stroke="#111111" stroke-width="0.22">SDN-T8</text>
<line x1="462.72" y1="355.3" x2="462.72" y2="359.9" stroke="#4a4a4a" stroke-width="1.0" />
<text transform="translate(468.72,363.9) rotate(-90) scale(0.9174,1)" font-size="12.75" text-anchor="end" fill="#111111" stroke="#111111" stroke-width="0.22">SDN-T9</text>
<line x1="473.41" y1="355.3" x2="473.41" y2="359.9" stroke="#4a4a4a" stroke-width="1.0" />
<text transform="translate(479.41,363.9) rotate(-90) scale(0.9174,1)" font-size="12.75" text-anchor="end" fill="#111111" stroke="#111111" stroke-width="0.22">SDN-T10</text>
<line x1="484.1" y1="355.3" x2="484.1" y2="359.9" stroke="#4a4a4a" stroke-width="1.0" />
<text transform="translate(490.1,363.9) rotate(-90) scale(0.9174,1)" font-size="12.75" text-anchor="end" fill="#111111" stroke="#111111" stroke-width="0.22">SDN-T11</text>
<line x1="494.79" y1="355.3" x2="494.79" y2="359.9" stroke="#4a4a4a" stroke-width="1.0" />
<text transform="translate(500.79,363.9) rotate(-90) scale(0.9174,1)" font-size="12.75" text-anchor="end" fill="#111111" stroke="#111111" stroke-width="0.22">SDN-T12</text>
<line x1="505.48" y1="355.3" x2="505.48" y2="359.9" stroke="#4a4a4a" stroke-width="1.0" />
<text transform="translate(511.48,363.9) rotate(-90) scale(0.9174,1)" font-size="12.75" text-anchor="end" fill="#111111" stroke="#111111" stroke-width="0.22">SDN-T13</text>
<line x1="516.17" y1="355.3" x2="516.17" y2="359.9" stroke="#4a4a4a" stroke-width="1.0" />
<text transform="translate(522.17,363.9) rotate(-90) scale(0.9174,1)" font-size="12.75" text-anchor="end" fill="#111111" stroke="#111111" stroke-width="0.22">SDN-T14</text>
<text transform="translate(533.3,261.1) scale(0.9174,1)" font-size="12.75" text-anchor="start" fill="#111111" stroke="#111111" stroke-width="0.22" >Stress/Immu+loco</text>
<polyline points="539.3,333.9 549.99,334.8 560.68,333.2 571.37,339.3 582.06,345.6 592.75,350 603.44,341.4 614.13,329.7 624.82,340.5 635.51,340.9 646.2,318.3 656.89,337.4 667.58,343 678.27,340.9" fill="none" stroke="#cfcfcf" stroke-width="3.0" stroke-linejoin="miter" stroke-miterlimit="4" stroke-linecap="butt" />
<polyline points="539.3,336.7 549.99,332.7 560.68,321.8 571.37,326.9 582.06,336.9 592.75,348.6 603.44,351.2 614.13,347.7 624.82,347.9 635.51,345.8 646.2,314.5 656.89,335.1 667.58,342.6 678.27,343" fill="none" stroke="#a8323a" stroke-width="1.6" stroke-linejoin="round" stroke-miterlimit="4" stroke-linecap="butt" />
<circle cx="560.68" cy="321.8" r="2.45" fill="#a8323a"/>
<circle cx="571.37" cy="326.9" r="2.45" fill="#a8323a"/>
<circle cx="582.06" cy="336.9" r="2.45" fill="#a8323a"/>
<text transform="translate(560,318.59) scale(1.0870,1)" font-size="10.12" text-anchor="middle" fill="#1a1a1a" stroke="#1a1a1a" stroke-width="0.25" >**</text>
<text transform="translate(580.6,323.19) scale(1.0870,1)" font-size="10.12" text-anchor="middle" fill="#1a1a1a" stroke="#1a1a1a" stroke-width="0.25" >**</text>
<text transform="translate(589.7,337.19) scale(1.0870,1)" font-size="10.12" text-anchor="middle" fill="#1a1a1a" stroke="#1a1a1a" stroke-width="0.25" >**</text>
<rect x="532.9" y="269.4" width="151.7" height="85.9" fill="none" stroke="#4a4a4a" stroke-width="1.0"/>
<line x1="539.3" y1="355.3" x2="539.3" y2="359.9" stroke="#4a4a4a" stroke-width="1.0" />
<text transform="translate(545.3,363.9) rotate(-90) scale(0.9174,1)" font-size="12.75" text-anchor="end" fill="#111111" stroke="#111111" stroke-width="0.22">SDN-T1</text>
<line x1="549.99" y1="355.3" x2="549.99" y2="359.9" stroke="#4a4a4a" stroke-width="1.0" />
<text transform="translate(555.99,363.9) rotate(-90) scale(0.9174,1)" font-size="12.75" text-anchor="end" fill="#111111" stroke="#111111" stroke-width="0.22">SDN-T2</text>
<line x1="560.68" y1="355.3" x2="560.68" y2="359.9" stroke="#4a4a4a" stroke-width="1.0" />
<text transform="translate(566.68,363.9) rotate(-90) scale(0.9174,1)" font-size="12.75" text-anchor="end" fill="#111111" stroke="#111111" stroke-width="0.22">SDN-T3</text>
<line x1="571.37" y1="355.3" x2="571.37" y2="359.9" stroke="#4a4a4a" stroke-width="1.0" />
<text transform="translate(577.37,363.9) rotate(-90) scale(0.9174,1)" font-size="12.75" text-anchor="end" fill="#111111" stroke="#111111" stroke-width="0.22">SDN-T4</text>
<line x1="582.06" y1="355.3" x2="582.06" y2="359.9" stroke="#4a4a4a" stroke-width="1.0" />
<text transform="translate(588.06,363.9) rotate(-90) scale(0.9174,1)" font-size="12.75" text-anchor="end" fill="#111111" stroke="#111111" stroke-width="0.22">SDN-T5</text>
<line x1="592.75" y1="355.3" x2="592.75" y2="359.9" stroke="#4a4a4a" stroke-width="1.0" />
<text transform="translate(598.75,363.9) rotate(-90) scale(0.9174,1)" font-size="12.75" text-anchor="end" fill="#111111" stroke="#111111" stroke-width="0.22">SDN-T6</text>
<line x1="603.44" y1="355.3" x2="603.44" y2="359.9" stroke="#4a4a4a" stroke-width="1.0" />
<text transform="translate(609.44,363.9) rotate(-90) scale(0.9174,1)" font-size="12.75" text-anchor="end" fill="#111111" stroke="#111111" stroke-width="0.22">SDN-T7</text>
<line x1="614.13" y1="355.3" x2="614.13" y2="359.9" stroke="#4a4a4a" stroke-width="1.0" />
<text transform="translate(620.13,363.9) rotate(-90) scale(0.9174,1)" font-size="12.75" text-anchor="end" fill="#111111" stroke="#111111" stroke-width="0.22">SDN-T8</text>
<line x1="624.82" y1="355.3" x2="624.82" y2="359.9" stroke="#4a4a4a" stroke-width="1.0" />
<text transform="translate(630.82,363.9) rotate(-90) scale(0.9174,1)" font-size="12.75" text-anchor="end" fill="#111111" stroke="#111111" stroke-width="0.22">SDN-T9</text>
<line x1="635.51" y1="355.3" x2="635.51" y2="359.9" stroke="#4a4a4a" stroke-width="1.0" />
<text transform="translate(641.51,363.9) rotate(-90) scale(0.9174,1)" font-size="12.75" text-anchor="end" fill="#111111" stroke="#111111" stroke-width="0.22">SDN-T10</text>
<line x1="646.2" y1="355.3" x2="646.2" y2="359.9" stroke="#4a4a4a" stroke-width="1.0" />
<text transform="translate(652.2,363.9) rotate(-90) scale(0.9174,1)" font-size="12.75" text-anchor="end" fill="#111111" stroke="#111111" stroke-width="0.22">SDN-T11</text>
<line x1="656.89" y1="355.3" x2="656.89" y2="359.9" stroke="#4a4a4a" stroke-width="1.0" />
<text transform="translate(662.89,363.9) rotate(-90) scale(0.9174,1)" font-size="12.75" text-anchor="end" fill="#111111" stroke="#111111" stroke-width="0.22">SDN-T12</text>
<line x1="667.58" y1="355.3" x2="667.58" y2="359.9" stroke="#4a4a4a" stroke-width="1.0" />
<text transform="translate(673.58,363.9) rotate(-90) scale(0.9174,1)" font-size="12.75" text-anchor="end" fill="#111111" stroke="#111111" stroke-width="0.22">SDN-T13</text>
<line x1="678.27" y1="355.3" x2="678.27" y2="359.9" stroke="#4a4a4a" stroke-width="1.0" />
<text transform="translate(684.27,363.9) rotate(-90) scale(0.9174,1)" font-size="12.75" text-anchor="end" fill="#111111" stroke="#111111" stroke-width="0.22">SDN-T14</text>
<text transform="translate(0.2,442.6) scale(0.9174,1)" font-size="18.53" text-anchor="start" fill="#111111" stroke="#111111" stroke-width="0.1" >B</text>
<text transform="translate(23.9,522.3) rotate(-90) scale(0.9174,1)" font-size="13.08" text-anchor="middle" fill="#111111" stroke="#111111" stroke-width="0.22">Distance to</text>
<text transform="translate(37.9,520.6) rotate(-90) scale(0.9174,1)" font-size="13.08" text-anchor="middle" fill="#111111" stroke="#111111" stroke-width="0.22">endothelial cells (mm)</text>
<path d="M116.75,463.5 C116.75,466.45 116.59,477.07 116.75,481.2 C116.91,485.33 117.31,486.42 117.7,488.3 C118.09,490.18 118.27,491.1 119.1,492.5 C119.93,493.9 120.93,495.28 122.7,496.7 C124.47,498.12 127.58,499.58 129.7,501 C131.82,502.42 133.87,503.67 135.4,505.2 C136.93,506.73 138.15,508.78 138.9,510.2 C139.65,511.62 140.02,512.4 139.9,513.7 C139.78,515 139.2,516.35 138.2,518 C137.2,519.65 135.55,521.72 133.9,523.6 C132.25,525.48 130.07,527.42 128.3,529.3 C126.53,531.18 124.83,533.02 123.3,534.9 C121.77,536.78 120.03,538.95 119.1,540.6 C118.17,542.25 118.09,542.92 117.7,544.8 C117.31,546.68 116.91,547.88 116.75,551.9 C116.59,555.92 116.75,566.07 116.75,568.9 L116.65,568.9 C116.65,566.07 116.81,555.92 116.65,551.9 C116.49,547.88 116.09,546.68 115.7,544.8 C115.31,542.92 115.23,542.25 114.3,540.6 C113.37,538.95 111.63,536.78 110.1,534.9 C108.57,533.02 106.87,531.18 105.1,529.3 C103.33,527.42 101.15,525.48 99.5,523.6 C97.85,521.72 96.2,519.65 95.2,518 C94.2,516.35 93.62,515 93.5,513.7 C93.38,512.4 93.75,511.62 94.5,510.2 C95.25,508.78 96.47,506.73 98,505.2 C99.53,503.67 101.58,502.42 103.7,501 C105.82,499.58 108.93,498.12 110.7,496.7 C112.47,495.28 113.47,493.9 114.3,492.5 C115.13,491.1 115.31,490.18 115.7,488.3 C116.09,486.42 116.49,485.33 116.65,481.2 C116.81,477.07 116.65,466.45 116.65,463.5Z" fill="#b4cbe1" stroke="#4a5866" stroke-width="0.5" stroke-linejoin="round"/>
<line x1="116.7" y1="463.5" x2="116.7" y2="568.9" stroke="#6a6a6a" stroke-width="0.55" />
<rect x="108.3" y="508.4" width="16.9" height="15.1" fill="#7da8cc" stroke="#4a5866" stroke-width="0.8"/>
<line x1="108.3" y1="515.4" x2="125.2" y2="515.4" stroke="#4a5866" stroke-width="1.3" />
<path d="M181.65,468.2 C181.65,471.07 181.49,480.88 181.65,485.4 C181.81,489.92 182.21,492.72 182.6,495.3 C182.99,497.88 183.3,499.02 184,500.9 C184.7,502.78 185.62,504.72 186.8,506.6 C187.98,508.48 189.45,510.57 191.1,512.2 C192.75,513.83 195.07,514.75 196.7,516.4 C198.33,518.05 199.6,520.22 200.9,522.1 C202.2,523.98 203.55,525.93 204.5,527.7 C205.45,529.47 206.73,531.28 206.6,532.7 C206.47,534.12 205.35,534.92 203.7,536.2 C202.05,537.48 199.05,539 196.7,540.4 C194.35,541.8 191.6,543.3 189.6,544.6 C187.6,545.9 185.87,547.13 184.7,548.2 C183.53,549.27 183.11,549.72 182.6,551 C182.09,552.28 181.81,554.18 181.65,555.9 C181.49,557.62 181.65,560.4 181.65,561.3 L181.55,561.3 C181.55,560.4 181.71,557.62 181.55,555.9 C181.39,554.18 181.11,552.28 180.6,551 C180.09,549.72 179.67,549.27 178.5,548.2 C177.33,547.13 175.6,545.9 173.6,544.6 C171.6,543.3 168.85,541.8 166.5,540.4 C164.15,539 161.15,537.48 159.5,536.2 C157.85,534.92 156.73,534.12 156.6,532.7 C156.47,531.28 157.75,529.47 158.7,527.7 C159.65,525.93 161,523.98 162.3,522.1 C163.6,520.22 164.87,518.05 166.5,516.4 C168.13,514.75 170.45,513.83 172.1,512.2 C173.75,510.57 175.22,508.48 176.4,506.6 C177.58,504.72 178.5,502.78 179.2,500.9 C179.9,499.02 180.21,497.88 180.6,495.3 C180.99,492.72 181.39,489.92 181.55,485.4 C181.71,480.88 181.55,471.07 181.55,468.2Z" fill="#f9c0bf" stroke="#5e3f3f" stroke-width="0.5" stroke-linejoin="round"/>
<line x1="181.6" y1="468.2" x2="181.6" y2="561.3" stroke="#6a6a6a" stroke-width="0.55" />
<rect x="173.3" y="520.2" width="17" height="14.2" fill="#f4928e" stroke="#5e3f3f" stroke-width="0.8"/>
<line x1="173.3" y1="528.4" x2="190.3" y2="528.4" stroke="#5e3f3f" stroke-width="1.3" />
<rect x="83.6" y="446.6" width="134.9" height="127.3" fill="none" stroke="#595959" stroke-width="1.1"/>
<line x1="80" y1="463.9" x2="83.6" y2="463.9" stroke="#595959" stroke-width="1.1" />
<text transform="translate(78,467.74) scale(0.9174,1)" font-size="12.32" text-anchor="end" fill="#111111" stroke="#111111" stroke-width="0.22" >1.000</text>
<line x1="80" y1="500.5" x2="83.6" y2="500.5" stroke="#595959" stroke-width="1.1" />
<text transform="translate(78,504.34) scale(0.9174,1)" font-size="12.32" text-anchor="end" fill="#111111" stroke="#111111" stroke-width="0.22" >0.100</text>
<line x1="80" y1="537.2" x2="83.6" y2="537.2" stroke="#595959" stroke-width="1.1" />
<text transform="translate(78,541.04) scale(0.9174,1)" font-size="12.32" text-anchor="end" fill="#111111" stroke="#111111" stroke-width="0.22" >0.010</text>
<line x1="80" y1="573.4" x2="83.6" y2="573.4" stroke="#595959" stroke-width="1.1" />
<text transform="translate(78,577.24) scale(0.9174,1)" font-size="12.32" text-anchor="end" fill="#111111" stroke="#111111" stroke-width="0.22" >0.001</text>
<line x1="116.8" y1="573.9" x2="116.8" y2="578.5" stroke="#595959" stroke-width="1.1" />
<line x1="181.6" y1="573.9" x2="181.6" y2="578.5" stroke="#595959" stroke-width="1.1" />
<line x1="116.5" y1="458.4" x2="181.8" y2="458.4" stroke="#222" stroke-width="1.0" />
<text transform="translate(145,457.49) scale(1.0870,1)" font-size="10.12" text-anchor="middle" fill="#1a1a1a" stroke="#1a1a1a" stroke-width="0.25" >***</text>
<text transform="translate(116.8,590) scale(0.9174,1)" font-size="13.08" text-anchor="middle" fill="#111111" stroke="#111111" stroke-width="0.22" >Cycle/</text>
<text transform="translate(116.8,601.6) scale(0.9174,1)" font-size="13.08" text-anchor="middle" fill="#111111" stroke="#111111" stroke-width="0.22" >Cho-like/</text>
<text transform="translate(116.8,613.2) scale(0.9174,1)" font-size="13.08" text-anchor="middle" fill="#111111" stroke="#111111" stroke-width="0.22" >Immu+loco</text>
<text transform="translate(182.2,595.6) scale(0.9174,1)" font-size="13.08" text-anchor="middle" fill="#111111" stroke="#111111" stroke-width="0.22" >EMT</text>
<text transform="translate(244,442.3) scale(0.9174,1)" font-size="18.53" text-anchor="start" fill="#111111" stroke="#111111" stroke-width="0.1" >C</text>
<text transform="translate(262.3,519.8) rotate(-90) scale(0.9174,1)" font-size="13.08" text-anchor="middle" fill="#111111" stroke="#111111" stroke-width="0.22">Number of tumor cells</text>
<text transform="translate(276.4,518.6) rotate(-90) scale(0.9174,1)" font-size="13.08" text-anchor="middle" fill="#111111" stroke="#111111" stroke-width="0.22">per SDN</text>
<path d="M344.05,473.1 C344.05,478.5 343.89,499.08 344.05,505.5 C344.21,511.92 344.62,509.92 345,511.6 C345.38,513.28 345.52,514.15 346.3,515.6 C347.08,517.05 348.02,518.72 349.7,520.3 C351.38,521.88 354.15,523.75 356.4,525.1 C358.65,526.45 361.4,527.17 363.2,528.4 C365,529.63 366.48,531.37 367.2,532.5 C367.92,533.63 367.83,533.97 367.5,535.2 C367.17,536.43 366.48,538.45 365.2,539.9 C363.92,541.35 361.27,542.67 359.8,543.9 C358.33,545.13 357.15,545.83 356.4,547.3 C355.65,548.77 355.63,550.9 355.3,552.7 C354.97,554.5 355.12,556.52 354.4,558.1 C353.68,559.68 352.23,560.97 351,562.2 C349.77,563.43 348.16,564.43 347,565.5 C345.84,566.57 344.54,568.08 344.05,568.6 L343.95,568.6 C343.46,568.08 342.16,566.57 341,565.5 C339.84,564.43 338.23,563.43 337,562.2 C335.77,560.97 334.32,559.68 333.6,558.1 C332.88,556.52 333.03,554.5 332.7,552.7 C332.37,550.9 332.35,548.77 331.6,547.3 C330.85,545.83 329.67,545.13 328.2,543.9 C326.73,542.67 324.08,541.35 322.8,539.9 C321.52,538.45 320.83,536.43 320.5,535.2 C320.17,533.97 320.08,533.63 320.8,532.5 C321.52,531.37 323,529.63 324.8,528.4 C326.6,527.17 329.35,526.45 331.6,525.1 C333.85,523.75 336.62,521.88 338.3,520.3 C339.98,518.72 340.92,517.05 341.7,515.6 C342.48,514.15 342.62,513.28 343,511.6 C343.38,509.92 343.79,511.92 343.95,505.5 C344.11,499.08 343.95,478.5 343.95,473.1Z" fill="#b4cbe1" stroke="#4a5866" stroke-width="0.5" stroke-linejoin="round"/>
<line x1="344" y1="473.1" x2="344" y2="568.6" stroke="#6a6a6a" stroke-width="0.55" />
<rect x="335" y="532.5" width="18.1" height="16.7" fill="#7da8cc" stroke="#4a5866" stroke-width="0.8"/>
<line x1="335" y1="539.2" x2="353.1" y2="539.2" stroke="#4a5866" stroke-width="1.3" />
<path d="M404.55,467.8 C404.55,472.38 404.43,489.33 404.55,495.3 C404.68,501.27 404.96,500.83 405.3,503.6 C405.64,506.37 406.03,509.35 406.6,511.9 C407.17,514.45 407.9,516.58 408.7,518.9 C409.5,521.22 410.48,523.5 411.4,525.8 C412.32,528.1 413.5,530.38 414.2,532.7 C414.9,535.02 415.13,537.62 415.6,539.7 C416.07,541.78 415.97,543.35 417,545.2 C418.03,547.05 419.95,549.18 421.8,550.8 C423.65,552.42 426.45,553.63 428.1,554.9 C429.75,556.17 431.47,557.35 431.7,558.4 C431.93,559.45 431.27,560.28 429.5,561.2 C427.73,562.12 423.88,563.1 421.1,563.9 C418.32,564.7 415.1,565.42 412.8,566 C410.5,566.58 408.68,566.95 407.3,567.4 C405.93,567.85 405.01,568.48 404.55,568.7 L404.45,568.7 C403.99,568.48 403.07,567.85 401.7,567.4 C400.32,566.95 398.5,566.58 396.2,566 C393.9,565.42 390.68,564.7 387.9,563.9 C385.12,563.1 381.27,562.12 379.5,561.2 C377.73,560.28 377.07,559.45 377.3,558.4 C377.53,557.35 379.25,556.17 380.9,554.9 C382.55,553.63 385.35,552.42 387.2,550.8 C389.05,549.18 390.97,547.05 392,545.2 C393.03,543.35 392.93,541.78 393.4,539.7 C393.87,537.62 394.1,535.02 394.8,532.7 C395.5,530.38 396.68,528.1 397.6,525.8 C398.52,523.5 399.5,521.22 400.3,518.9 C401.1,516.58 401.83,514.45 402.4,511.9 C402.97,509.35 403.36,506.37 403.7,503.6 C404.04,500.83 404.32,501.27 404.45,495.3 C404.57,489.33 404.45,472.38 404.45,467.8Z" fill="#f9c0bf" stroke="#5e3f3f" stroke-width="0.5" stroke-linejoin="round"/>
<line x1="404.5" y1="467.8" x2="404.5" y2="568.7" stroke="#6a6a6a" stroke-width="0.55" />
<rect x="395.3" y="539.4" width="18.4" height="18.6" fill="#f4928e" stroke="#5e3f3f" stroke-width="0.8"/>
<line x1="395.3" y1="551.5" x2="413.7" y2="551.5" stroke="#5e3f3f" stroke-width="1.3" />
<rect x="307.8" y="446.6" width="132.4" height="127.3" fill="none" stroke="#595959" stroke-width="1.1"/>
<line x1="304.2" y1="486.6" x2="307.8" y2="486.6" stroke="#595959" stroke-width="1.1" />
<text transform="translate(301.3,490.74) scale(0.9174,1)" font-size="12.32" text-anchor="end" fill="#111111" stroke="#111111" stroke-width="0.22" >100</text>
<line x1="304.2" y1="527.5" x2="307.8" y2="527.5" stroke="#595959" stroke-width="1.1" />
<text transform="translate(301.3,531.64) scale(0.9174,1)" font-size="12.32" text-anchor="end" fill="#111111" stroke="#111111" stroke-width="0.22" >50</text>
<line x1="304.2" y1="568.3" x2="307.8" y2="568.3" stroke="#595959" stroke-width="1.1" />
<text transform="translate(301.3,572.44) scale(0.9174,1)" font-size="12.32" text-anchor="end" fill="#111111" stroke="#111111" stroke-width="0.22" >0</text>
<line x1="344" y1="573.9" x2="344" y2="578.2" stroke="#595959" stroke-width="1.1" />
<line x1="404.6" y1="573.9" x2="404.6" y2="578.2" stroke="#595959" stroke-width="1.1" />
<line x1="343.9" y1="462.9" x2="404.6" y2="462.9" stroke="#666" stroke-width="1.6" />
<text transform="translate(373.6,461.19) scale(1.0870,1)" font-size="10.12" text-anchor="middle" fill="#1a1a1a" stroke="#1a1a1a" stroke-width="0.25" >***</text>
<text transform="translate(344.7,590.1) scale(0.9174,1)" font-size="13.08" text-anchor="middle" fill="#111111" stroke="#111111" stroke-width="0.22" >Cycle</text>
<text transform="translate(398.2,590.1) scale(0.9174,1)" font-size="13.08" text-anchor="middle" fill="#111111" stroke="#111111" stroke-width="0.22" >Others</text>
<text transform="translate(480.7,514.7) rotate(-90) scale(0.9174,1)" font-size="13.08" text-anchor="middle" fill="#111111" stroke="#111111" stroke-width="0.22">Proportion of tumor cells</text>
<text transform="translate(495,513) rotate(-90) scale(0.9174,1)" font-size="13.08" text-anchor="middle" fill="#111111" stroke="#111111" stroke-width="0.22">per SDN</text>
<path d="M564.7,466.4 C565.87,466.93 569.15,468.25 571.7,469.6 C574.25,470.95 577.7,472.88 580,474.5 C582.3,476.12 584.33,477.8 585.5,479.3 C586.67,480.8 587,482.12 587,483.5 C587,484.88 586.43,486.1 585.5,487.6 C584.57,489.1 583.02,490.53 581.4,492.5 C579.78,494.47 577.42,497.1 575.8,499.4 C574.18,501.7 573.08,503.53 571.7,506.3 C570.32,509.07 568.67,512.98 567.5,516 C566.33,519.02 565.5,521.4 564.7,524.4 C563.9,527.4 563.27,531 562.7,534 C562.13,537 561.65,539.38 561.3,542.4 C560.95,545.42 560.83,547.75 560.6,552.1 C560.38,556.45 560.06,565.77 559.95,568.5 L559.85,568.5 C559.74,565.77 559.42,556.45 559.2,552.1 C558.97,547.75 558.85,545.42 558.5,542.4 C558.15,539.38 557.67,537 557.1,534 C556.53,531 555.9,527.4 555.1,524.4 C554.3,521.4 553.47,519.02 552.3,516 C551.13,512.98 549.48,509.07 548.1,506.3 C546.72,503.53 545.62,501.7 544,499.4 C542.38,497.1 540.02,494.47 538.4,492.5 C536.78,490.53 535.23,489.1 534.3,487.6 C533.37,486.1 532.8,484.88 532.8,483.5 C532.8,482.12 533.13,480.8 534.3,479.3 C535.47,477.8 537.5,476.12 539.8,474.5 C542.1,472.88 545.55,470.95 548.1,469.6 C550.65,468.25 553.93,466.93 555.1,466.4Z" fill="#b4cbe1" stroke="#4a5866" stroke-width="0.5" stroke-linejoin="round"/>
<line x1="559.9" y1="466.4" x2="559.9" y2="568.5" stroke="#6a6a6a" stroke-width="0.55" />
<rect x="550.9" y="479.8" width="17.9" height="21.6" fill="#7da8cc" stroke="#4a5866" stroke-width="0.8"/>
<line x1="550.9" y1="488.4" x2="568.8" y2="488.4" stroke="#4a5866" stroke-width="1.3" />
<path d="M623.6,466.4 C624.4,467.05 626.78,468.48 628.4,470.3 C630.02,472.12 631.92,474.75 633.3,477.3 C634.68,479.85 635.88,482.83 636.7,485.6 C637.52,488.37 638.08,491.13 638.2,493.9 C638.32,496.67 637.98,499.2 637.4,502.2 C636.82,505.2 635.85,508.67 634.7,511.9 C633.55,515.13 631.9,518.37 630.5,521.6 C629.1,524.83 627.45,528.28 626.3,531.3 C625.15,534.32 624.28,536.92 623.6,539.7 C622.92,542.48 622.55,544.77 622.2,548 C621.85,551.23 621.57,556.02 621.5,559.1 C621.43,562.18 621.75,564.92 621.8,566.5 C621.85,568.08 621.8,568.25 621.8,568.6 L618.4,568.6 C618.4,568.25 618.35,568.08 618.4,566.5 C618.45,564.92 618.77,562.18 618.7,559.1 C618.63,556.02 618.35,551.23 618,548 C617.65,544.77 617.28,542.48 616.6,539.7 C615.92,536.92 615.05,534.32 613.9,531.3 C612.75,528.28 611.1,524.83 609.7,521.6 C608.3,518.37 606.65,515.13 605.5,511.9 C604.35,508.67 603.38,505.2 602.8,502.2 C602.22,499.2 601.88,496.67 602,493.9 C602.12,491.13 602.68,488.37 603.5,485.6 C604.32,482.83 605.52,479.85 606.9,477.3 C608.28,474.75 610.18,472.12 611.8,470.3 C613.42,468.48 615.8,467.05 616.6,466.4Z" fill="#f9c0bf" stroke="#5e3f3f" stroke-width="0.5" stroke-linejoin="round"/>
<line x1="620.1" y1="466.4" x2="620.1" y2="568.6" stroke="#6a6a6a" stroke-width="0.55" />
<rect x="611.1" y="486.8" width="17.7" height="27.6" fill="#f4928e" stroke="#5e3f3f" stroke-width="0.8"/>
<line x1="611.1" y1="500" x2="628.8" y2="500" stroke="#5e3f3f" stroke-width="1.3" />
<rect x="523.6" y="446.6" width="132.2" height="127.3" fill="none" stroke="#595959" stroke-width="1.1"/>
<line x1="520" y1="466.2" x2="523.6" y2="466.2" stroke="#595959" stroke-width="1.1" />
<text transform="translate(517.3,469.74) scale(0.9174,1)" font-size="12.32" text-anchor="end" fill="#111111" stroke="#111111" stroke-width="0.22" >1.0</text>
<line x1="520" y1="517.3" x2="523.6" y2="517.3" stroke="#595959" stroke-width="1.1" />
<text transform="translate(517.3,520.84) scale(0.9174,1)" font-size="12.32" text-anchor="end" fill="#111111" stroke="#111111" stroke-width="0.22" >0.5</text>
<line x1="520" y1="568.3" x2="523.6" y2="568.3" stroke="#595959" stroke-width="1.1" />
<text transform="translate(517.3,571.84) scale(0.9174,1)" font-size="12.32" text-anchor="end" fill="#111111" stroke="#111111" stroke-width="0.22" >0.0</text>
<line x1="559.8" y1="573.9" x2="559.8" y2="578.2" stroke="#595959" stroke-width="1.1" />
<line x1="620.1" y1="573.9" x2="620.1" y2="578.2" stroke="#595959" stroke-width="1.1" />
<line x1="559.6" y1="461" x2="620.3" y2="461" stroke="#222" stroke-width="1.0" />
<text transform="translate(589,460.49) scale(1.0870,1)" font-size="10.12" text-anchor="middle" fill="#1a1a1a" stroke="#1a1a1a" stroke-width="0.25" >***</text>
<text transform="translate(565.8,590.1) scale(0.9174,1)" font-size="13.08" text-anchor="middle" fill="#111111" stroke="#111111" stroke-width="0.22" >Cycle</text>
<text transform="translate(619.5,590.1) scale(0.9174,1)" font-size="13.08" text-anchor="middle" fill="#111111" stroke="#111111" stroke-width="0.22" >Others</text>
<text transform="translate(0.2,633) scale(0.9174,1)" font-size="18.53" text-anchor="start" fill="#111111" stroke="#111111" stroke-width="0.1" >D</text>
<g transform="rotate(-0.5 148.55 711)">
<text transform="translate(150.65,639.8) scale(0.9174,1)" font-size="13.08" text-anchor="middle" fill="#111111" stroke="#111111" stroke-width="0.22" >Liu et al.</text>
<path d="M118.2,667.2 L104.9,667.2 C104.53,667.5 103.3,668.28 102.7,669 C102.1,669.72 101.58,670.73 101.3,671.5 C101.02,672.27 100.92,672.85 101,673.6 C101.08,674.35 101.28,674.93 101.8,676 C102.32,677.07 103.25,678.5 104.1,680 C104.95,681.5 105.98,683.33 106.9,685 C107.82,686.67 108.68,688.33 109.6,690 C110.52,691.67 111.48,693.33 112.4,695 C113.32,696.67 114.55,698.83 115.1,700 C115.65,701.17 115.57,701 115.7,702 C115.83,703 115.87,704.07 115.9,706 C115.93,707.93 115.9,712.33 115.9,713.6 L118.2,713.6 Z" fill="#8db4fb"/>
<path d="M179.9,717.3 L183.4,717.3 C183.53,717.58 183.82,718.38 184.2,719 C184.58,719.62 185.17,720.33 185.7,721 C186.23,721.67 186.62,722.17 187.4,723 C188.18,723.83 189.35,725 190.4,726 C191.45,727 192.75,728.08 193.7,729 C194.65,729.92 195.57,730.8 196.1,731.5 C196.63,732.2 196.88,732.62 196.9,733.2 C196.92,733.78 196.65,734.28 196.2,735 C195.75,735.72 194.92,736.67 194.2,737.5 C193.48,738.33 192.7,739.08 191.9,740 C191.1,740.92 190.15,742 189.4,743 C188.65,744 187.88,745 187.4,746 C186.92,747 186.68,747.83 186.5,749 C186.32,750.17 186.33,751.5 186.3,753 C186.27,754.5 186.37,756.5 186.3,758 C186.23,759.5 186.03,760.93 185.9,762 C185.77,763.07 185.57,764 185.5,764.4 L179.9,764.4 Z" fill="#f89e9a"/>
<line x1="124.7" y1="666.7" x2="172" y2="730" stroke="#b2b2b2" stroke-width="0.9" />
<line x1="124.7" y1="669.7" x2="172" y2="732.4" stroke="#b2b2b2" stroke-width="0.9" />
<line x1="124.7" y1="672" x2="172" y2="742.7" stroke="#b2b2b2" stroke-width="0.9" />
<line x1="124.7" y1="674.3" x2="172" y2="735" stroke="#b2b2b2" stroke-width="0.9" />
<line x1="124.7" y1="676.5" x2="172" y2="745.2" stroke="#b2b2b2" stroke-width="0.9" />
<line x1="124.7" y1="678.8" x2="172" y2="753.3" stroke="#b2b2b2" stroke-width="0.9" />
<line x1="124.7" y1="680.8" x2="172" y2="761.2" stroke="#b2b2b2" stroke-width="0.9" />
<line x1="124.7" y1="687.5" x2="172" y2="765.8" stroke="#b2b2b2" stroke-width="0.9" />
<line x1="124.7" y1="695.4" x2="172" y2="732.4" stroke="#b2b2b2" stroke-width="0.9" />
<line x1="124.7" y1="713.4" x2="172" y2="717" stroke="#b2b2b2" stroke-width="0.9" />
<line x1="124.7" y1="666.7" x2="172" y2="763.6" stroke="#b2b2b2" stroke-width="0.9" />
<line x1="124.7" y1="674.3" x2="172" y2="730" stroke="#b2b2b2" stroke-width="0.9" />
<circle cx="124.7" cy="666.7" r="2.3" fill="#5c95f5"/>
<circle cx="124.7" cy="669.7" r="2.3" fill="#5c95f5"/>
<circle cx="124.7" cy="672" r="2.3" fill="#5c95f5"/>
<circle cx="124.7" cy="674.3" r="2.3" fill="#5c95f5"/>
<circle cx="124.7" cy="676.5" r="2.3" fill="#5c95f5"/>
<circle cx="124.7" cy="678.8" r="2.3" fill="#5c95f5"/>
<circle cx="124.7" cy="680.8" r="2.3" fill="#5c95f5"/>
<circle cx="124.7" cy="687.5" r="2.3" fill="#5c95f5"/>
<circle cx="124.7" cy="695.4" r="2.3" fill="#5c95f5"/>
<circle cx="124.7" cy="713.4" r="2.3" fill="#5c95f5"/>
<polygon points="172,713.64 169,718.83 175,718.83" fill="#f4736c"/>
<polygon points="172,726.64 169,731.83 175,731.83" fill="#f4736c"/>
<polygon points="172,729.04 169,734.23 175,734.23" fill="#f4736c"/>
<polygon points="172,731.64 169,736.83 175,736.83" fill="#f4736c"/>
<polygon points="172,739.34 169,744.53 175,744.53" fill="#f4736c"/>
<polygon points="172,741.84 169,747.03 175,747.03" fill="#f4736c"/>
<polygon points="172,749.94 169,755.13 175,755.13" fill="#f4736c"/>
<polygon points="172,757.84 169,763.03 175,763.03" fill="#f4736c"/>
<polygon points="172,760.24 169,765.43 175,765.43" fill="#f4736c"/>
<polygon points="172,762.44 169,767.63 175,767.63" fill="#f4736c"/>
<rect x="80.8" y="645.3" width="135.5" height="132" fill="none" stroke="#595959" stroke-width="1.1"/>
<line x1="76.6" y1="666.9" x2="80.8" y2="666.9" stroke="#595959" stroke-width="1.1" />
<text transform="translate(74.4,670.74) scale(0.9174,1)" font-size="12.32" text-anchor="end" fill="#111111" stroke="#111111" stroke-width="0.22" >1.00</text>
<line x1="76.6" y1="702.1" x2="80.8" y2="702.1" stroke="#595959" stroke-width="1.1" />
<text transform="translate(74.4,705.94) scale(0.9174,1)" font-size="12.32" text-anchor="end" fill="#111111" stroke="#111111" stroke-width="0.22" >0.75</text>
<line x1="76.6" y1="737.2" x2="80.8" y2="737.2" stroke="#595959" stroke-width="1.1" />
<text transform="translate(74.4,741.04) scale(0.9174,1)" font-size="12.32" text-anchor="end" fill="#111111" stroke="#111111" stroke-width="0.22" >0.50</text>
<line x1="76.6" y1="772.4" x2="80.8" y2="772.4" stroke="#595959" stroke-width="1.1" />
<text transform="translate(74.4,776.24) scale(0.9174,1)" font-size="12.32" text-anchor="end" fill="#111111" stroke="#111111" stroke-width="0.22" >0.25</text>
<line x1="124.7" y1="777.3" x2="124.7" y2="781.5" stroke="#595959" stroke-width="1.1" />
<line x1="172" y1="777.3" x2="172" y2="781.5" stroke="#595959" stroke-width="1.1" />
<line x1="122.1" y1="657.2" x2="177.9" y2="657.2" stroke="#222" stroke-width="1.0" />
<text transform="translate(150,658.39) scale(1.0870,1)" font-size="10.12" text-anchor="middle" fill="#1a1a1a" stroke="#1a1a1a" stroke-width="0.25" >***</text>
<text transform="translate(46.5,714.1) rotate(-90) scale(0.9174,1)" font-size="13.08" text-anchor="middle" fill="#111111" stroke="#111111" stroke-width="0.22">Enrichment score</text>
<text transform="translate(121.7,793.9) scale(0.9174,1)" font-size="13.08" text-anchor="middle" fill="#111111" stroke="#111111" stroke-width="0.22" >Hit</text>
<text transform="translate(170.1,793.9) scale(0.9174,1)" font-size="13.08" text-anchor="middle" fill="#111111" stroke="#111111" stroke-width="0.22" >non−Hit</text>
</g>
<text transform="translate(377.15,639.8) scale(0.9174,1)" font-size="13.08" text-anchor="middle" fill="#111111" stroke="#111111" stroke-width="0.22" >Wu et al.</text>
<line x1="307.5" y1="772.4" x2="442.6" y2="772.4" stroke="#ececec" stroke-width="0.8" />
<path d="M344.9,666.9 L334.1,666.9 C333.6,667.25 332.05,668.15 331.1,669 C330.15,669.85 329.05,671.05 328.4,672 C327.75,672.95 327.28,673.87 327.2,674.7 C327.12,675.53 327.42,676.12 327.9,677 C328.38,677.88 329.12,678.8 330.1,680 C331.08,681.2 332.83,682.95 333.8,684.2 C334.77,685.45 335.25,686.4 335.9,687.5 C336.55,688.6 337.07,689.72 337.7,690.8 C338.33,691.88 339.05,692.8 339.7,694 C340.35,695.2 341.23,697 341.6,698 C341.97,699 341.85,698.53 341.9,700 C341.95,701.47 341.9,705.67 341.9,706.8 L344.9,706.8 Z" fill="#8db4fb"/>
<path d="M406.1,710 L412.7,710 C412.98,710.43 413.95,711.75 414.4,712.6 C414.85,713.45 415.17,714.27 415.4,715.1 C415.63,715.93 415.8,716.77 415.8,717.6 C415.8,718.43 415.52,719.27 415.4,720.1 C415.28,720.93 415.1,721.75 415.1,722.6 C415.1,723.45 415.13,724.35 415.4,725.2 C415.67,726.05 416.1,726.87 416.7,727.7 C417.3,728.53 418.28,729.37 419,730.2 C419.72,731.03 420.42,731.85 421,732.7 C421.58,733.55 422.17,734.53 422.5,735.3 C422.83,736.07 423.05,736.63 423,737.3 C422.95,737.97 422.62,738.72 422.2,739.3 C421.78,739.88 421,740.38 420.5,740.8 C420,741.22 419.42,741.63 419.2,741.8 L406.1,741.8 Z" fill="#f89e9a"/>
<line x1="351.4" y1="667" x2="398.6" y2="727.4" stroke="#b2b2b2" stroke-width="0.9" />
<line x1="351.4" y1="669.6" x2="398.6" y2="736.4" stroke="#b2b2b2" stroke-width="0.9" />
<line x1="351.4" y1="671.8" x2="398.6" y2="715.4" stroke="#b2b2b2" stroke-width="0.9" />
<line x1="351.4" y1="674.5" x2="398.6" y2="739.4" stroke="#b2b2b2" stroke-width="0.9" />
<line x1="351.4" y1="677.1" x2="398.6" y2="718.4" stroke="#b2b2b2" stroke-width="0.9" />
<line x1="351.4" y1="679.3" x2="398.6" y2="741.9" stroke="#b2b2b2" stroke-width="0.9" />
<line x1="351.4" y1="682" x2="398.6" y2="721.4" stroke="#b2b2b2" stroke-width="0.9" />
<line x1="351.4" y1="684.1" x2="398.6" y2="733.4" stroke="#b2b2b2" stroke-width="0.9" />
<line x1="351.4" y1="686.8" x2="398.6" y2="736.4" stroke="#b2b2b2" stroke-width="0.9" />
<line x1="351.4" y1="689.5" x2="398.6" y2="739.4" stroke="#b2b2b2" stroke-width="0.9" />
<line x1="351.4" y1="692.2" x2="398.6" y2="741.9" stroke="#b2b2b2" stroke-width="0.9" />
<line x1="351.4" y1="694.1" x2="398.6" y2="733.4" stroke="#b2b2b2" stroke-width="0.9" />
<line x1="351.4" y1="707.2" x2="398.6" y2="710.4" stroke="#b2b2b2" stroke-width="0.9" />
<circle cx="351.4" cy="667" r="2.3" fill="#5c95f5"/>
<circle cx="351.4" cy="669.6" r="2.3" fill="#5c95f5"/>
<circle cx="351.4" cy="671.8" r="2.3" fill="#5c95f5"/>
<circle cx="351.4" cy="674.5" r="2.3" fill="#5c95f5"/>
<circle cx="351.4" cy="677.1" r="2.3" fill="#5c95f5"/>
<circle cx="351.4" cy="679.3" r="2.3" fill="#5c95f5"/>
<circle cx="351.4" cy="682" r="2.3" fill="#5c95f5"/>
<circle cx="351.4" cy="684.1" r="2.3" fill="#5c95f5"/>
<circle cx="351.4" cy="686.8" r="2.3" fill="#5c95f5"/>
<circle cx="351.4" cy="689.5" r="2.3" fill="#5c95f5"/>
<circle cx="351.4" cy="692.2" r="2.3" fill="#5c95f5"/>
<circle cx="351.4" cy="694.1" r="2.3" fill="#5c95f5"/>
<circle cx="351.4" cy="707.2" r="2.3" fill="#5c95f5"/>
<polygon points="398.6,707.04 395.6,712.23 401.6,712.23" fill="#f4736c"/>
<polygon points="398.6,712.04 395.6,717.23 401.6,717.23" fill="#f4736c"/>
<polygon points="398.6,715.04 395.6,720.23 401.6,720.23" fill="#f4736c"/>
<polygon points="398.6,718.04 395.6,723.23 401.6,723.23" fill="#f4736c"/>
<polygon points="398.6,724.04 395.6,729.23 401.6,729.23" fill="#f4736c"/>
<polygon points="398.6,730.04 395.6,735.23 401.6,735.23" fill="#f4736c"/>
<polygon points="398.6,733.04 395.6,738.23 401.6,738.23" fill="#f4736c"/>
<polygon points="398.6,736.04 395.6,741.23 401.6,741.23" fill="#f4736c"/>
<polygon points="398.6,738.54 395.6,743.73 401.6,743.73" fill="#f4736c"/>
<rect x="307.5" y="645.3" width="135.1" height="132" fill="none" stroke="#595959" stroke-width="1.1"/>
<line x1="303.3" y1="666.9" x2="307.5" y2="666.9" stroke="#595959" stroke-width="1.1" />
<text transform="translate(301.1,670.74) scale(0.9174,1)" font-size="12.32" text-anchor="end" fill="#111111" stroke="#111111" stroke-width="0.22" >1.00</text>
<line x1="303.3" y1="702.1" x2="307.5" y2="702.1" stroke="#595959" stroke-width="1.1" />
<text transform="translate(301.1,705.94) scale(0.9174,1)" font-size="12.32" text-anchor="end" fill="#111111" stroke="#111111" stroke-width="0.22" >0.75</text>
<line x1="303.3" y1="737.2" x2="307.5" y2="737.2" stroke="#595959" stroke-width="1.1" />
<text transform="translate(301.1,741.04) scale(0.9174,1)" font-size="12.32" text-anchor="end" fill="#111111" stroke="#111111" stroke-width="0.22" >0.50</text>
<line x1="303.3" y1="772.4" x2="307.5" y2="772.4" stroke="#595959" stroke-width="1.1" />
<text transform="translate(301.1,776.24) scale(0.9174,1)" font-size="12.32" text-anchor="end" fill="#111111" stroke="#111111" stroke-width="0.22" >0.25</text>
<line x1="351.4" y1="777.3" x2="351.4" y2="781.5" stroke="#595959" stroke-width="1.1" />
<line x1="398.6" y1="777.3" x2="398.6" y2="781.5" stroke="#595959" stroke-width="1.1" />
<line x1="348" y1="657.2" x2="404.1" y2="657.2" stroke="#222" stroke-width="1.0" />
<text transform="translate(376.05,658.39) scale(1.0870,1)" font-size="10.12" text-anchor="middle" fill="#1a1a1a" stroke="#1a1a1a" stroke-width="0.25" >***</text>
<text transform="translate(273.2,714.1) rotate(-90) scale(0.9174,1)" font-size="13.08" text-anchor="middle" fill="#111111" stroke="#111111" stroke-width="0.22">Enrichment score</text>
<text transform="translate(348.4,793.9) scale(0.9174,1)" font-size="13.08" text-anchor="middle" fill="#111111" stroke="#111111" stroke-width="0.22" >Hit</text>
<text transform="translate(396.7,793.9) scale(0.9174,1)" font-size="13.08" text-anchor="middle" fill="#111111" stroke="#111111" stroke-width="0.22" >non−Hit</text>
<text transform="translate(592.55,639.8) scale(0.9174,1)" font-size="13.08" text-anchor="middle" fill="#111111" stroke="#111111" stroke-width="0.22" >Zhang et al.</text>
<path d="M559.9,667.2 L554.3,667.2 C553.97,667.63 552.88,668.82 552.3,669.8 C551.72,670.78 551.15,671.73 550.8,673.1 C550.45,674.47 550.17,676.35 550.2,678 C550.23,679.65 550.52,681.35 551,683 C551.48,684.65 552.2,686.27 553.1,687.9 C554,689.53 555.52,691.17 556.4,692.8 C557.28,694.43 557.93,696.07 558.4,697.7 C558.87,699.33 559.13,701.1 559.2,702.6 C559.27,704.1 559.13,705.33 558.8,706.7 C558.47,708.07 557.65,709.43 557.2,710.8 C556.75,712.17 556.3,713.67 556.1,714.9 C555.9,716.13 556.02,717.27 556,718.2 C555.98,719.13 556,720.12 556,720.5 L559.9,720.5 Z" fill="#8db4fb"/>
<path d="M621.8,717.1 L631.3,717.1 C631.22,717.32 630.98,717.9 630.8,718.4 C630.62,718.9 630.33,719.58 630.2,720.1 C630.07,720.62 629.82,721.05 630,721.5 C630.18,721.95 630.57,722.28 631.3,722.8 C632.03,723.32 633.37,723.93 634.4,724.6 C635.43,725.27 636.7,726.07 637.5,726.8 C638.3,727.53 639.2,728.27 639.2,729 C639.2,729.73 638.15,730.4 637.5,731.2 C636.85,732 636.05,732.92 635.3,733.8 C634.55,734.68 633.67,735.77 633,736.5 C632.33,737.23 631.7,737.8 631.3,738.2 C630.9,738.6 630.72,738.78 630.6,738.9 L621.8,738.9 Z" fill="#f89e9a"/>
<line x1="566.7" y1="667" x2="614" y2="731.7" stroke="#b2b2b2" stroke-width="0.9" />
<line x1="566.7" y1="669.6" x2="614" y2="729" stroke="#b2b2b2" stroke-width="0.9" />
<line x1="566.7" y1="671.8" x2="614" y2="737" stroke="#b2b2b2" stroke-width="0.9" />
<line x1="566.7" y1="673.9" x2="614" y2="726.3" stroke="#b2b2b2" stroke-width="0.9" />
<line x1="566.7" y1="676.1" x2="614" y2="734.4" stroke="#b2b2b2" stroke-width="0.9" />
<line x1="566.7" y1="678.8" x2="614" y2="739.2" stroke="#b2b2b2" stroke-width="0.9" />
<line x1="566.7" y1="684.7" x2="614" y2="729" stroke="#b2b2b2" stroke-width="0.9" />
<line x1="566.7" y1="687.3" x2="614" y2="731.7" stroke="#b2b2b2" stroke-width="0.9" />
<line x1="566.7" y1="714.7" x2="614" y2="716.7" stroke="#b2b2b2" stroke-width="0.9" />
<line x1="566.7" y1="714.7" x2="614" y2="739.2" stroke="#b2b2b2" stroke-width="0.9" />
<line x1="566.7" y1="720.6" x2="614" y2="737" stroke="#b2b2b2" stroke-width="0.9" />
<line x1="566.7" y1="720.6" x2="614" y2="734.4" stroke="#b2b2b2" stroke-width="0.9" />
<circle cx="566.7" cy="667" r="2.3" fill="#5c95f5"/>
<circle cx="566.7" cy="669.6" r="2.3" fill="#5c95f5"/>
<circle cx="566.7" cy="671.8" r="2.3" fill="#5c95f5"/>
<circle cx="566.7" cy="673.9" r="2.3" fill="#5c95f5"/>
<circle cx="566.7" cy="676.1" r="2.3" fill="#5c95f5"/>
<circle cx="566.7" cy="678.8" r="2.3" fill="#5c95f5"/>
<circle cx="566.7" cy="684.7" r="2.3" fill="#5c95f5"/>
<circle cx="566.7" cy="687.3" r="2.3" fill="#5c95f5"/>
<circle cx="566.7" cy="714.7" r="2.3" fill="#5c95f5"/>
<circle cx="566.7" cy="720.6" r="2.3" fill="#5c95f5"/>
<polygon points="614,713.34 611,718.53 617,718.53" fill="#f4736c"/>
<polygon points="614,722.94 611,728.13 617,728.13" fill="#f4736c"/>
<polygon points="614,725.64 611,730.83 617,730.83" fill="#f4736c"/>
<polygon points="614,728.34 611,733.53 617,733.53" fill="#f4736c"/>
<polygon points="614,731.04 611,736.23 617,736.23" fill="#f4736c"/>
<polygon points="614,733.64 611,738.83 617,738.83" fill="#f4736c"/>
<polygon points="614,735.84 611,741.03 617,741.03" fill="#f4736c"/>
<rect x="522.9" y="645.3" width="135.1" height="132" fill="none" stroke="#595959" stroke-width="1.1"/>
<line x1="518.7" y1="666.9" x2="522.9" y2="666.9" stroke="#595959" stroke-width="1.1" />
<text transform="translate(516.5,670.74) scale(0.9174,1)" font-size="12.32" text-anchor="end" fill="#111111" stroke="#111111" stroke-width="0.22" >1.00</text>
<line x1="518.7" y1="702.1" x2="522.9" y2="702.1" stroke="#595959" stroke-width="1.1" />
<text transform="translate(516.5,705.94) scale(0.9174,1)" font-size="12.32" text-anchor="end" fill="#111111" stroke="#111111" stroke-width="0.22" >0.75</text>
<line x1="518.7" y1="737.2" x2="522.9" y2="737.2" stroke="#595959" stroke-width="1.1" />
<text transform="translate(516.5,741.04) scale(0.9174,1)" font-size="12.32" text-anchor="end" fill="#111111" stroke="#111111" stroke-width="0.22" >0.50</text>
<line x1="518.7" y1="772.4" x2="522.9" y2="772.4" stroke="#595959" stroke-width="1.1" />
<text transform="translate(516.5,776.24) scale(0.9174,1)" font-size="12.32" text-anchor="end" fill="#111111" stroke="#111111" stroke-width="0.22" >0.25</text>
<line x1="566.7" y1="777.3" x2="566.7" y2="781.5" stroke="#595959" stroke-width="1.1" />
<line x1="614" y1="777.3" x2="614" y2="781.5" stroke="#595959" stroke-width="1.1" />
<line x1="563.2" y1="657.2" x2="619.5" y2="657.2" stroke="#222" stroke-width="1.0" />
<text transform="translate(591.35,658.39) scale(1.0870,1)" font-size="10.12" text-anchor="middle" fill="#1a1a1a" stroke="#1a1a1a" stroke-width="0.25" >***</text>
<text transform="translate(488.6,714.1) rotate(-90) scale(0.9174,1)" font-size="13.08" text-anchor="middle" fill="#111111" stroke="#111111" stroke-width="0.22">Enrichment score</text>
<text transform="translate(563.7,793.9) scale(0.9174,1)" font-size="13.08" text-anchor="middle" fill="#111111" stroke="#111111" stroke-width="0.22" >Hit</text>
<text transform="translate(612.1,793.9) scale(0.9174,1)" font-size="13.08" text-anchor="middle" fill="#111111" stroke="#111111" stroke-width="0.22" >non−Hit</text>
</svg>
</body></html>
